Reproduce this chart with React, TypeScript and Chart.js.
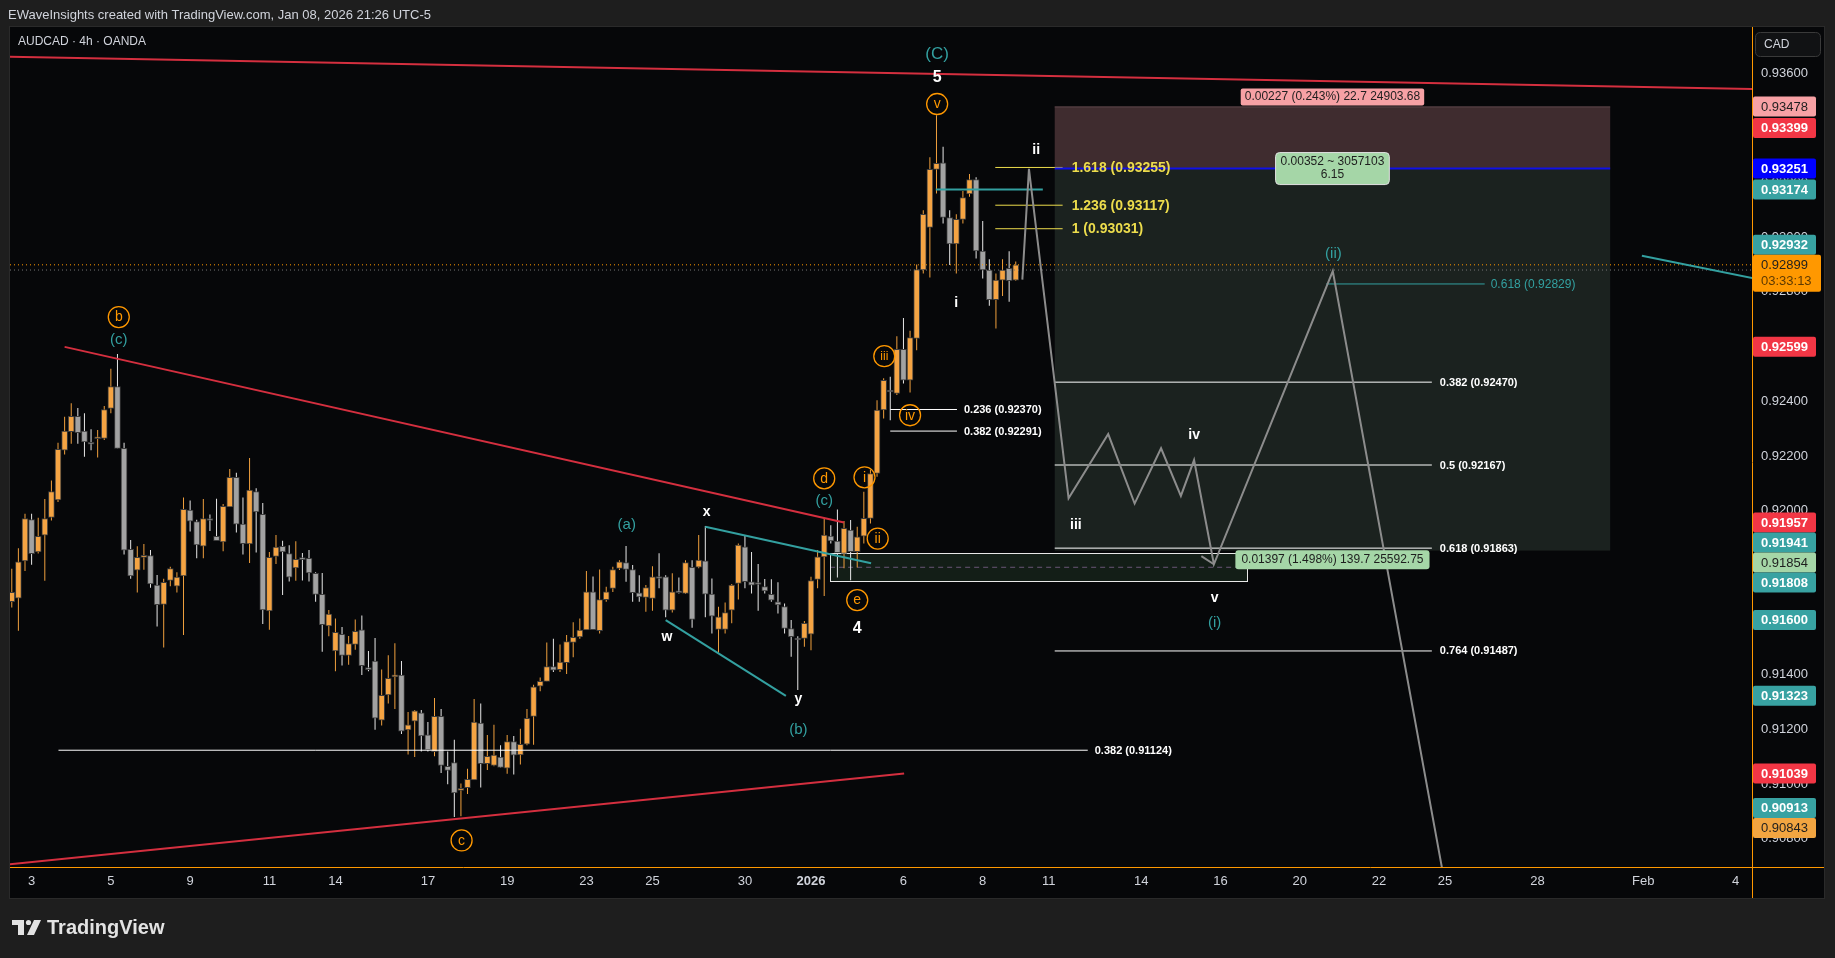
import React, { useEffect, useRef } from 'react';
import { Chart, registerables } from 'chart.js';

Chart.register(...registerables);

const FONT = "'Liberation Sans', Arial, sans-serif";

// ---------- DATA ----------
const FIRST_BAR = -3; // bar index of first candle (bar 0 = Dec 3)

const opens = [
  0.91667, 0.9168, 0.91816, 0.91967, 0.91849, 0.9191, 0.91975, 0.92039, 0.92221, 0.92289,
  0.92345, 0.92291, 0.92248, 0.92263, 0.92264, 0.92374, 0.92454, 0.92228, 0.91859, 0.91782,
  0.91829, 0.91836, 0.91728, 0.91657, 0.91745, 0.91724, 0.91761, 0.92002, 0.9196, 0.9187,
  0.91971, 0.91906, 0.91886, 0.92014, 0.92122, 0.91951, 0.91878, 0.9207, 0.91987, 0.91633,
  0.91833, 0.9187, 0.91843, 0.91791, 0.91825, 0.91826, 0.91771, 0.91694, 0.91579, 0.91487,
  0.91548, 0.91471, 0.91511, 0.91564, 0.91423, 0.9145, 0.91234, 0.91326, 0.91392, 0.91399,
  0.91198, 0.9123, 0.91261, 0.9118, 0.91119, 0.91248, 0.91065, 0.91079, 0.90977, 0.90987,
  0.91015, 0.91223, 0.91075, 0.91068, 0.91099, 0.91058, 0.91156, 0.91107, 0.91146, 0.91248,
  0.91358, 0.91376, 0.9143, 0.91419, 0.91444, 0.91518, 0.91538, 0.91564, 0.91703, 0.91561,
  0.91675, 0.91716, 0.91789, 0.9181, 0.91785, 0.917, 0.91683, 0.91679, 0.91758, 0.91758,
  0.91636, 0.91706, 0.91697, 0.91793, 0.91793, 0.91817, 0.91695, 0.91566, 0.91566, 0.91636,
  0.91734, 0.91868, 0.9174, 0.91734, 0.91722, 0.91694, 0.91667, 0.91649, 0.91569, 0.91533,
  0.91533, 0.91548, 0.91749, 0.91831, 0.91907, 0.91889, 0.91844, 0.91929, 0.9185, 0.91907,
  0.91972, 0.92136, 0.92368, 0.92437, 0.92429, 0.9259, 0.92477, 0.9263, 0.9288, 0.93036,
  0.93248, 0.93272, 0.93072, 0.92975, 0.93065, 0.93158, 0.93211, 0.92949, 0.9288, 0.92772,
  0.92843, 0.92886, 0.92843,
];
const highs = [
  0.91788, 0.91863, 0.91989, 0.91989, 0.91974, 0.92043, 0.9211, 0.92248, 0.92343, 0.92393,
  0.92375, 0.92356, 0.92298, 0.92295, 0.92383, 0.92519, 0.92573, 0.92248, 0.91893, 0.9187,
  0.91878, 0.91856, 0.91765, 0.91751, 0.91795, 0.91775, 0.92048, 0.92037, 0.91967, 0.92043,
  0.91986, 0.92044, 0.92024, 0.92152, 0.92139, 0.92048, 0.92193, 0.92082, 0.92028, 0.91849,
  0.91911, 0.9189, 0.91874, 0.91888, 0.91845, 0.91856, 0.91775, 0.91772, 0.91637, 0.91606,
  0.91575, 0.91542, 0.91602, 0.91617, 0.91487, 0.91534, 0.91419, 0.91471, 0.91515, 0.9145,
  0.91264, 0.91271, 0.91271, 0.91227, 0.91315, 0.91275, 0.91119, 0.91162, 0.91002, 0.91056,
  0.91311, 0.91295, 0.9118, 0.91217, 0.91142, 0.9118, 0.91176, 0.91203, 0.91275, 0.91363,
  0.9139, 0.91518, 0.91532, 0.91511, 0.91545, 0.91592, 0.91606, 0.91779, 0.91759, 0.91785,
  0.91722, 0.91795, 0.91819, 0.91871, 0.91801, 0.91764, 0.91728, 0.91797, 0.91844, 0.91764,
  0.91771, 0.91756, 0.91819, 0.91819, 0.91911, 0.91944, 0.91752, 0.91649, 0.91664, 0.91732,
  0.9188, 0.91911, 0.91849, 0.91805, 0.9175, 0.91749, 0.91738, 0.91661, 0.916, 0.91541,
  0.91597, 0.91758, 0.91856, 0.91975, 0.91947, 0.92004, 0.91962, 0.91966, 0.91941, 0.92069,
  0.9215, 0.92404, 0.92484, 0.9249, 0.92638, 0.92705, 0.92658, 0.929, 0.93099, 0.93292,
  0.93446, 0.93331, 0.93099, 0.93084, 0.93169, 0.93231, 0.93219, 0.93059, 0.92919, 0.92867,
  0.92919, 0.92949, 0.92911,
];
const lows = [
  0.91646, 0.91561, 0.91779, 0.91802, 0.91843, 0.91744, 0.91964, 0.92032, 0.92205, 0.92245,
  0.92245, 0.92197, 0.92221, 0.92194, 0.92258, 0.92356, 0.92228, 0.9184, 0.91751, 0.91701,
  0.91784, 0.91718, 0.91576, 0.915, 0.91724, 0.91701, 0.91545, 0.91924, 0.91826, 0.91826,
  0.91926, 0.9189, 0.91852, 0.92014, 0.9192, 0.9184, 0.91809, 0.91847, 0.91586, 0.91565,
  0.91805, 0.91692, 0.91741, 0.91744, 0.91745, 0.91741, 0.91667, 0.91484, 0.91541, 0.91413,
  0.91434, 0.91437, 0.91491, 0.91399, 0.91413, 0.91199, 0.91214, 0.91295, 0.91275, 0.91183,
  0.91108, 0.91099, 0.91119, 0.91119, 0.91102, 0.91041, 0.91, 0.9088, 0.90883, 0.90964,
  0.91015, 0.90988, 0.91052, 0.91065, 0.91061, 0.91038, 0.91035, 0.91072, 0.91142, 0.91144,
  0.9134, 0.91376, 0.9141, 0.9141, 0.91403, 0.91464, 0.91532, 0.91564, 0.91565, 0.91551,
  0.91667, 0.91703, 0.91783, 0.9174, 0.91667, 0.91667, 0.9163, 0.91634, 0.91716, 0.9161,
  0.91628, 0.91697, 0.91695, 0.91572, 0.91789, 0.9161, 0.91551, 0.9148, 0.91551, 0.91588,
  0.91675, 0.91716, 0.91697, 0.91634, 0.91697, 0.91667, 0.91624, 0.91551, 0.91466, 0.91344,
  0.91502, 0.9149, 0.91716, 0.91688, 0.9188, 0.91756, 0.91789, 0.91746, 0.91792, 0.9188,
  0.91953, 0.92124, 0.92337, 0.92331, 0.92423, 0.92465, 0.92432, 0.92587, 0.92867, 0.92853,
  0.9316, 0.9305, 0.92898, 0.92867, 0.9305, 0.93148, 0.92922, 0.92849, 0.92749, 0.92666,
  0.92785, 0.92764, 0.92841,
];
const closes = [
  0.91701, 0.91813, 0.91971, 0.91843, 0.91906, 0.91971, 0.9207, 0.92224, 0.92291, 0.92345,
  0.92285, 0.92251, 0.92243, 0.92266, 0.9237, 0.92454, 0.92228, 0.91856, 0.91761, 0.91829,
  0.91837, 0.91732, 0.91656, 0.91738, 0.91788, 0.91757, 0.92005, 0.91962, 0.91875, 0.91971,
  0.91964, 0.9189, 0.92016, 0.92122, 0.91951, 0.91879, 0.92075, 0.91995, 0.91637, 0.91829,
  0.91867, 0.91849, 0.91757, 0.91822, 0.91821, 0.91772, 0.91694, 0.91583, 0.91622, 0.91555,
  0.91471, 0.91514, 0.91559, 0.91433, 0.91419, 0.91241, 0.91325, 0.91387, 0.914, 0.91194,
  0.91217, 0.91268, 0.91176, 0.91126, 0.91248, 0.91068, 0.9105, 0.90968, 0.90985, 0.91018,
  0.91227, 0.91075, 0.91102, 0.91106, 0.91061, 0.91156, 0.91106, 0.91146, 0.91241, 0.91356,
  0.91376, 0.9143, 0.91417, 0.91446, 0.91521, 0.91537, 0.91563, 0.91703, 0.91565, 0.91675,
  0.91703, 0.91785, 0.91813, 0.91785, 0.917, 0.91685, 0.91719, 0.91758, 0.91752, 0.91636,
  0.91703, 0.917, 0.9181, 0.91602, 0.91819, 0.91695, 0.91614, 0.91612, 0.91627, 0.91728,
  0.91874, 0.9174, 0.91728, 0.9173, 0.91707, 0.91673, 0.91655, 0.91569, 0.91539, 0.91527,
  0.91588, 0.91744, 0.91831, 0.91911, 0.91889, 0.91846, 0.91935, 0.9185, 0.91904, 0.91972,
  0.92136, 0.92368, 0.92477, 0.92434, 0.9259, 0.92477, 0.92633, 0.92882, 0.93084, 0.93248,
  0.9327, 0.93072, 0.92975, 0.93065, 0.93145, 0.93211, 0.9295, 0.9288, 0.92772, 0.92843,
  0.9288, 0.92841, 0.92899,
];

const xTickBars = [0, 12, 24, 36, 46, 60, 72, 84, 94, 108, 118, 132, 144, 154, 168, 180, 192, 204, 214, 228, 244, 258];
const xTickLabels = ['3', '5', '9', '11', '14', '17', '19', '23', '25', '30', '2026', '6', '8', '11', '14', '16', '20', '22', '25', '28', 'Feb', '4'];
const yTickValues = [0.908, 0.91, 0.912, 0.914, 0.916, 0.918, 0.92, 0.922, 0.924, 0.926, 0.928, 0.93, 0.932, 0.934, 0.936];

const LAST_PRICE = 0.92899;
const PREV_CLOSE = 0.9288;
const COUNTDOWN = '03:33:13';

const badgePrices = [0.93478, 0.93399, 0.93251, 0.93174, 0.92932, 0.92599, 0.91957, 0.91941, 0.91854, 0.91808, 0.916, 0.91323, 0.91039, 0.90913, 0.90843];
const badgeKinds = ['pink', 'red', 'blue', 'teal', 'teal', 'red', 'red', 'teal', 'green', 'teal', 'teal', 'teal', 'red', 'teal', 'orange'];

// trend lines [bar, price]
const redTopLine: [number, number][] = [[-4, 0.9366], [262, 0.93541]];
const redUpperLine: [number, number][] = [[5.0, 0.92599], [123.0, 0.91957]];
const redLowerLine: [number, number][] = [[-4, 0.90705], [132.1, 0.91039]];
const tealXLine: [number, number][] = [[102.0, 0.91941], [127.1, 0.91808]];
const tealWYLine: [number, number][] = [[96.0, 0.916], [114.2, 0.91323]];
const tealTopLine: [number, number][] = [[136.9, 0.93174], [153.1, 0.93174]];
const tealRightLine: [number, number][] = [[243.8, 0.92932], [262, 0.92843]];

// projected wave path
const projBars = [150, 151, 157, 163, 167, 171, 174, 176, 179, 197, 215];
const projPrices = [0.92845, 0.9325, 0.92045, 0.9228, 0.92026, 0.92228, 0.92054, 0.92185, 0.91804, 0.92876, 0.905];
const projArrow: [number, number][] = [[177.1, 0.91834], [179, 0.91804]];

// fibonacci levels
const fibExtLevels = ['1.618', '1.236', '1'];
const fibExtPrices = [0.93255, 0.93117, 0.93031];
const fibSmallLevels = ['0.236', '0.382'];
const fibSmallPrices = [0.9237, 0.92291];
const fibBigLevels = ['0.382', '0.5', '0.618', '0.764'];
const fibBigPrices = [0.9247, 0.92167, 0.91863, 0.91487];
const fibLowLevels = ['0.382'];
const fibLowPrices = [0.91124];
const fibTealLevels = ['0.618'];
const fibTealPrices = [0.92829];

// positions
const shortStop = 0.93478;
const shortEntry = 0.93251;
const shortTarget = 0.91854;
const longTop = 0.91844;
const longBottom = 0.91741;
const longMid = 0.91793;
const shortStatsText = '0.00227 (0.243%) 22.7 24903.68';
const shortMidText1 = '0.00352 ~ 3057103';
const shortMidText2 = '6.15';
const longStatsText = '0.01397 (1.498%) 139.7 25592.75';

// ---------- LAYOUT / STYLE ----------
const W = 1835;
const H = 958;
const X_MIN = -3.27;
const X_MAX = 260.47;
const Y_MIN = 0.90697;
const Y_MAX = 0.93765;

const C_UP = '#f5a443';
const C_DOWN = '#a2a2a2';
const C_UP_WICK = '#f0a03e';
const C_DOWN_WICK = '#e8e8e8';
const C_BORDER = '#3c3c3c';
const C_RED = '#d42f3f';
const C_TEAL = '#33a0a0';
const C_YELLOW = '#ecdc4c';
const C_ORANGE = '#ff9800';
const C_PROJ = '#8c8c8c';
const C_TEXT = '#d1d4dc';

type Lbl = { t: string; b: number; p: number; k: string };
const waveLabels: Lbl[] = [
  { t: '(C)', b: 137.1, p: 0.9367, k: 'tealBig' },
  { t: '5', b: 137.1, p: 0.93585, k: 'whiteBig' },
  { t: 'v', b: 137.1, p: 0.93487, k: 'circle' },
  { t: 'iii', b: 129.1, p: 0.92565, k: 'circle' },
  { t: 'iv', b: 133.0, p: 0.92349, k: 'circle' },
  { t: 'i', b: 126.1, p: 0.92122, k: 'circle' },
  { t: 'ii', b: 128.1, p: 0.91898, k: 'circle' },
  { t: 'd', b: 120.0, p: 0.92118, k: 'circle' },
  { t: '(c)', b: 120.0, p: 0.92036, k: 'teal' },
  { t: 'e', b: 125.0, p: 0.91673, k: 'circle' },
  { t: '4', b: 125.0, p: 0.91569, k: 'whiteBig' },
  { t: '(a)', b: 90.1, p: 0.91947, k: 'teal' },
  { t: 'x', b: 102.2, p: 0.91994, k: 'white' },
  { t: 'w', b: 96.2, p: 0.91539, k: 'white' },
  { t: 'y', b: 116.1, p: 0.9131, k: 'white' },
  { t: '(b)', b: 116.1, p: 0.912, k: 'teal' },
  { t: 'b', b: 13.2, p: 0.92708, k: 'circle' },
  { t: '(c)', b: 13.2, p: 0.92624, k: 'teal' },
  { t: 'c', b: 65.1, p: 0.90794, k: 'circle' },
  { t: 'i', b: 140.0, p: 0.92759, k: 'white' },
  { t: 'ii', b: 152.1, p: 0.93318, k: 'white' },
  { t: 'iii', b: 158.1, p: 0.91947, k: 'white' },
  { t: 'iv', b: 176.0, p: 0.92276, k: 'white' },
  { t: 'v', b: 179.1, p: 0.91679, k: 'white' },
  { t: '(i)', b: 179.1, p: 0.9159, k: 'teal' },
  { t: '(ii)', b: 197.1, p: 0.92938, k: 'teal' },
];

type FibSet = { from: number; to: number; levels: string[]; prices: number[]; color: string; font: string; gap: number };
const fibSets: FibSet[] = [
  { from: 145.9, to: 156.1, levels: fibExtLevels, prices: fibExtPrices, color: C_YELLOW, font: `bold 14px ${FONT}`, gap: 9 },
  { from: 130.0, to: 140.1, levels: fibSmallLevels, prices: fibSmallPrices, color: '#ffffff', font: `bold 11px ${FONT}`, gap: 7 },
  { from: 154.9, to: 212.0, levels: fibBigLevels, prices: fibBigPrices, color: '#ffffff', font: `bold 11px ${FONT}`, gap: 8 },
  { from: 4.07, to: 159.9, levels: fibLowLevels, prices: fibLowPrices, color: '#ffffff', font: `bold 11px ${FONT}`, gap: 7 },
  { from: 196.0, to: 220.0, levels: fibTealLevels, prices: fibTealPrices, color: C_TEAL, font: `12px ${FONT}`, gap: 6 },
];
const SHORT_FROM = 154.9;
const SHORT_TO = 239.0;
const LONG_FROM = 120.9;
const LONG_TO = 184.1;

const badgeStyle: Record<string, { bg: string; fg: string; bold: boolean }> = {
  pink: { bg: '#f7a1a5', fg: '#1e1e1e', bold: false },
  red: { bg: '#f23645', fg: '#ffffff', bold: true },
  blue: { bg: '#0000ff', fg: '#ffffff', bold: true },
  teal: { bg: '#38a2a2', fg: '#ffffff', bold: true },
  green: { bg: '#a5d6a7', fg: '#1e1e1e', bold: false },
  orange: { bg: '#f2a541', fg: '#1e1e1e', bold: false },
};

function lineDs(points: [number, number][], color: string, width: number, dash: number[] = []) {
  return {
    type: 'line' as const,
    data: points.map(([x, y]) => ({ x, y })),
    borderColor: color,
    borderWidth: width,
    borderDash: dash,
    pointRadius: 0,
    pointHoverRadius: 0,
    fill: false,
    tension: 0,
    order: 0,
  };
}

function rr(ctx: CanvasRenderingContext2D, x: number, y: number, w: number, h: number, r: number) {
  ctx.beginPath();
  ctx.moveTo(x + r, y);
  ctx.lineTo(x + w - r, y);
  ctx.quadraticCurveTo(x + w, y, x + w, y + r);
  ctx.lineTo(x + w, y + h - r);
  ctx.quadraticCurveTo(x + w, y + h, x + w - r, y + h);
  ctx.lineTo(x + r, y + h);
  ctx.quadraticCurveTo(x, y + h, x, y + h - r);
  ctx.lineTo(x, y + r);
  ctx.quadraticCurveTo(x, y, x + r, y);
  ctx.closePath();
}

const overlayPlugin = {
  id: 'tvOverlay',
  beforeDraw(chart: any) {
    const ctx: CanvasRenderingContext2D = chart.ctx;
    ctx.save();
    ctx.fillStyle = '#1e1e1e';
    ctx.fillRect(0, 0, W, H);
    ctx.fillStyle = '#060709';
    ctx.fillRect(10, 27, 1814, 871);
    ctx.strokeStyle = '#2a2a2a';
    ctx.lineWidth = 1;
    ctx.strokeRect(9.5, 26.5, 1815, 872);
    ctx.restore();
  },
  beforeDatasetsDraw(chart: any) {
    const ctx: CanvasRenderingContext2D = chart.ctx;
    const xs = chart.scales.x;
    const ys = chart.scales.y;
    const a = chart.chartArea;
    ctx.save();
    ctx.beginPath();
    ctx.rect(a.left, a.top, a.right - a.left, a.bottom - a.top);
    ctx.clip();
    // short position box
    const sx1 = xs.getPixelForValue(SHORT_FROM);
    const sx2 = xs.getPixelForValue(SHORT_TO);
    const yStop = ys.getPixelForValue(shortStop);
    const yEntry = ys.getPixelForValue(shortEntry);
    const yTarget = ys.getPixelForValue(shortTarget);
    ctx.fillStyle = '#3f2c2f';
    ctx.fillRect(sx1, yStop, sx2 - sx1, yEntry - yStop);
    ctx.fillStyle = '#1b221f';
    ctx.fillRect(sx1, yEntry, sx2 - sx1, yTarget - yEntry);
    ctx.strokeStyle = '#5a4448';
    ctx.lineWidth = 1;
    ctx.beginPath();
    ctx.moveTo(sx1, yStop + 0.5);
    ctx.lineTo(sx2, yStop + 0.5);
    ctx.stroke();
    // long position box
    const lx1 = xs.getPixelForValue(LONG_FROM);
    const lx2 = xs.getPixelForValue(LONG_TO);
    const lyT = ys.getPixelForValue(longTop);
    const lyB = ys.getPixelForValue(longBottom);
    const lyM = ys.getPixelForValue(longMid);
    ctx.fillStyle = '#131e17';
    ctx.fillRect(lx1, lyT, lx2 - lx1, lyB - lyT);
    ctx.strokeStyle = '#6a5577';
    ctx.setLineDash([5, 4]);
    ctx.beginPath();
    ctx.moveTo(lx1, lyM);
    ctx.lineTo(lx2, lyM);
    ctx.stroke();
    ctx.setLineDash([]);
    ctx.strokeStyle = '#e8e8e8';
    ctx.strokeRect(Math.round(lx1) + 0.5, Math.round(lyT) + 0.5, Math.round(lx2 - lx1), Math.round(lyB - lyT));
    ctx.restore();
  },
  afterDatasetsDraw(chart: any) {
    const ctx: CanvasRenderingContext2D = chart.ctx;
    const xs = chart.scales.x;
    const ys = chart.scales.y;
    ctx.save();
    ctx.textBaseline = 'middle';
    // fib labels
    for (const f of fibSets) {
      const x = xs.getPixelForValue(f.to) + f.gap;
      ctx.font = f.font;
      ctx.fillStyle = f.color;
      ctx.textAlign = 'left';
      f.levels.forEach((lv, i) => {
        ctx.fillText(`${lv} (${f.prices[i].toFixed(5)})`, x, ys.getPixelForValue(f.prices[i]) + 0.5);
      });
    }
    // wave labels
    for (const l of waveLabels) {
      const x = xs.getPixelForValue(l.b);
      const y = ys.getPixelForValue(l.p);
      ctx.textAlign = 'center';
      if (l.k === 'circle') {
        ctx.strokeStyle = C_ORANGE;
        ctx.lineWidth = 1.3;
        ctx.beginPath();
        ctx.arc(x, y, 10.5, 0, Math.PI * 2);
        ctx.stroke();
        ctx.fillStyle = C_ORANGE;
        ctx.font = `${l.t.length > 2 ? 12 : 14}px ${FONT}`;
        ctx.fillText(l.t, x, y + 0.5);
      } else if (l.k === 'teal' || l.k === 'tealBig') {
        ctx.fillStyle = C_TEAL;
        ctx.font = `${l.k === 'tealBig' ? 17 : 15}px ${FONT}`;
        ctx.fillText(l.t, x, y);
      } else {
        ctx.fillStyle = '#ffffff';
        ctx.font = `bold ${l.k === 'whiteBig' ? 16 : 14}px ${FONT}`;
        ctx.fillText(l.t, x, y);
      }
    }
    // position labels
    const sx1 = xs.getPixelForValue(SHORT_FROM);
    const sx2 = xs.getPixelForValue(SHORT_TO);
    const cx = (sx1 + sx2) / 2;
    const yStop = ys.getPixelForValue(shortStop);
    const yEntry = ys.getPixelForValue(shortEntry);
    ctx.font = `12px ${FONT}`;
    ctx.textAlign = 'center';
    let w = ctx.measureText(shortStatsText).width + 8;
    ctx.fillStyle = '#f7a1a5';
    rr(ctx, cx - w / 2, yStop - 18, w, 17, 2);
    ctx.fill();
    ctx.fillStyle = '#1e1e1e';
    ctx.fillText(shortStatsText, cx, yStop - 9.5);
    // mid label
    w = ctx.measureText(shortMidText1).width + 10;
    ctx.fillStyle = '#a5d6a7';
    rr(ctx, cx - w / 2, yEntry - 16, w, 32, 4);
    ctx.fill();
    ctx.strokeStyle = '#e0e0e0';
    ctx.lineWidth = 1;
    ctx.stroke();
    ctx.fillStyle = '#1e1e1e';
    ctx.fillText(shortMidText1, cx, yEntry - 7);
    ctx.fillText(shortMidText2, cx, yEntry + 6);
    // long label
    const lyT = ys.getPixelForValue(longTop);
    w = ctx.measureText(longStatsText).width + 12;
    ctx.fillStyle = '#a5d6a7';
    rr(ctx, cx - w / 2, lyT - 3, w, 19, 3);
    ctx.fill();
    ctx.fillStyle = '#1e1e1e';
    ctx.fillText(longStatsText, cx, lyT + 6.5);
    ctx.restore();
  },
  afterDraw(chart: any) {
    const ctx: CanvasRenderingContext2D = chart.ctx;
    const ys = chart.scales.y;
    const a = chart.chartArea;
    ctx.save();
    // axis borders
    ctx.strokeStyle = C_ORANGE;
    ctx.lineWidth = 1;
    ctx.beginPath();
    ctx.moveTo(a.right + 0.5, 27);
    ctx.lineTo(a.right + 0.5, 898);
    ctx.moveTo(10, a.bottom + 0.5);
    ctx.lineTo(1824, a.bottom + 0.5);
    ctx.stroke();

    // badges
    const lastY = ys.getPixelForValue(LAST_PRICE);
    const lastTop = lastY - 10;
    const lastBottom = lastTop + 37;
    const items = badgePrices.map((p, i) => ({ p, kind: badgeKinds[i], y: ys.getPixelForValue(p) }));
    const above = items.filter((b) => b.p > LAST_PRICE).sort((m, n) => n.y - m.y);
    const below = items.filter((b) => b.p <= LAST_PRICE).sort((m, n) => m.y - n.y);
    let limit = lastTop;
    for (const b of above) {
      let top = b.y - 10;
      if (top + 20 > limit) top = limit - 20;
      (b as any).top = top;
      limit = top;
    }
    limit = lastBottom;
    for (const b of below) {
      let top = b.y - 10;
      if (top < limit) top = limit;
      (b as any).top = top;
      limit = top + 20;
    }
    ctx.textBaseline = 'middle';
    ctx.textAlign = 'left';
    for (const b of items) {
      const st = badgeStyle[b.kind];
      const top = (b as any).top;
      ctx.fillStyle = st.bg;
      rr(ctx, a.right + 1, top, 63, 20, 2);
      ctx.fill();
      ctx.fillStyle = st.fg;
      ctx.font = `${st.bold ? 'bold ' : ''}13px ${FONT}`;
      ctx.fillText(b.p.toFixed(5), a.right + 9, top + 10.5);
    }
    // last price badge
    ctx.fillStyle = C_ORANGE;
    rr(ctx, a.right + 1, lastTop, 68, 37, 2);
    ctx.fill();
    ctx.fillStyle = '#1e1e1e';
    ctx.font = `13px ${FONT}`;
    ctx.fillText(LAST_PRICE.toFixed(5), a.right + 9, lastTop + 10.5);
    ctx.fillStyle = '#5e3a00';
    ctx.fillText(COUNTDOWN, a.right + 9, lastTop + 27);

    // currency box
    ctx.fillStyle = '#111214';
    rr(ctx, 1755.5, 32.5, 65, 24, 5);
    ctx.fill();
    ctx.strokeStyle = '#3a3a3a';
    ctx.stroke();
    ctx.fillStyle = C_TEXT;
    ctx.font = `12px ${FONT}`;
    ctx.fillText('CAD', 1764, 45);

    // header texts
    ctx.fillStyle = C_TEXT;
    ctx.font = `13px ${FONT}`;
    ctx.fillText('EWaveInsights created with TradingView.com, Jan 08, 2026 21:26 UTC-5', 8, 15);
    ctx.font = `12px ${FONT}`;
    ctx.fillText('AUDCAD · 4h · OANDA', 18, 42);

    // footer logo
    ctx.fillStyle = '#e3e3e3';
    ctx.fillRect(12, 920, 12, 5);
    ctx.fillRect(18, 920, 6, 15);
    ctx.beginPath();
    ctx.arc(28.5, 922.5, 2.6, 0, Math.PI * 2);
    ctx.fill();
    ctx.beginPath();
    ctx.moveTo(34, 920);
    ctx.lineTo(41, 920);
    ctx.lineTo(34, 935);
    ctx.lineTo(27, 935);
    ctx.closePath();
    ctx.fill();
    ctx.font = `bold 20px ${FONT}`;
    ctx.fillText('TradingView', 47, 928);
    ctx.restore();
  },
};

export default function App() {
  const ref = useRef<HTMLCanvasElement>(null);
  useEffect(() => {
    const canvas = ref.current;
    if (!canvas) return;
    const bars = opens.map((_, i) => FIRST_BAR + i);
    const up = opens.map((o, i) => closes[i] >= o);
    const wickData = bars.map((b, i) => ({ x: b, y: [lows[i], highs[i]] }));
    const bodyData = bars.map((b, i) => ({ x: b, y: [Math.min(opens[i], closes[i]), Math.max(opens[i], closes[i])] }));

    const datasets: any[] = [
      lineDs(projBars.map((b, i) => [b, projPrices[i]] as [number, number]), C_PROJ, 2),
      lineDs(projArrow, C_PROJ, 2),
      lineDs(redTopLine, C_RED, 2),
      lineDs(redUpperLine, C_RED, 2),
      lineDs(redLowerLine, C_RED, 2),
      lineDs(tealXLine, C_TEAL, 2),
      lineDs(tealWYLine, C_TEAL, 2),
      lineDs(tealTopLine, C_TEAL, 2),
      lineDs(tealRightLine, C_TEAL, 2),
      lineDs([[SHORT_FROM, shortEntry], [SHORT_TO, shortEntry]], '#1010e8', 2),
      lineDs([[X_MIN, LAST_PRICE], [X_MAX, LAST_PRICE]], C_ORANGE, 1, [1, 3]),
      lineDs([[X_MIN, PREV_CLOSE], [X_MAX, PREV_CLOSE]], '#777777', 1, [1, 3]),
    ];
    for (const f of fibSets) {
      f.prices.forEach((p) => datasets.push(lineDs([[f.from, p], [f.to, p]], f.color, 1)));
    }
    datasets.push({
      type: 'bar',
      data: bodyData,
      backgroundColor: up.map((u) => (u ? C_UP : C_DOWN)),
      borderColor: C_BORDER,
      borderWidth: 1,
      borderSkipped: false,
      barThickness: 6,
      minBarLength: 2,
      grouped: false,
      order: 1,
    });
    datasets.push({
      type: 'bar',
      data: wickData,
      backgroundColor: up.map((u) => (u ? C_UP_WICK : C_DOWN_WICK)),
      borderWidth: 0,
      barThickness: 1,
      inflateAmount: 0,
      grouped: false,
      order: 2,
    });

    const chart = new Chart(canvas, {
      type: 'bar',
      data: { datasets },
      options: {
        animation: false,
        responsive: false,
        devicePixelRatio: 1,
        events: [],
        layout: { padding: { left: 10, top: 28, right: 12, bottom: 60 } },
        plugins: { legend: { display: false }, tooltip: { enabled: false }, title: { display: false } },
        scales: {
          x: {
            type: 'linear',
            min: X_MIN,
            max: X_MAX,
            offset: false,
            grid: { display: false, drawTicks: false },
            border: { display: false },
            afterBuildTicks: (s: any) => {
              s.ticks = xTickBars.map((v) => ({ value: v }));
            },
            afterFit: (s: any) => {
              s.height = 31;
            },
            ticks: {
              autoSkip: false,
              maxRotation: 0,
              padding: 7,
              color: C_TEXT,
              font: (c: any) => ({ family: FONT, size: 13, weight: c.tick && c.tick.label === '2026' ? 'bold' : 'normal' }),
              callback: (v: any) => {
                const k = xTickBars.indexOf(Number(v));
                return k >= 0 ? xTickLabels[k] : '';
              },
            },
          },
          y: {
            type: 'linear',
            position: 'right',
            min: Y_MIN,
            max: Y_MAX,
            grid: { display: false, drawTicks: false },
            border: { display: false },
            afterBuildTicks: (s: any) => {
              s.ticks = yTickValues.map((v) => ({ value: v }));
            },
            afterFit: (s: any) => {
              s.width = 71;
            },
            ticks: {
              autoSkip: false,
              padding: 9,
              color: C_TEXT,
              font: { family: FONT, size: 13 },
              callback: (v: any) => Number(v).toFixed(5),
            },
          },
        },
      } as any,
      plugins: [overlayPlugin],
    } as any);
    return () => chart.destroy();
  }, []);

  return (
    <div style={{ position: 'fixed', left: 0, top: 0, width: W, height: H, background: '#1e1e1e' }}>
      <canvas ref={ref} width={W} height={H} style={{ display: 'block', width: W, height: H }} />
    </div>
  );
}
